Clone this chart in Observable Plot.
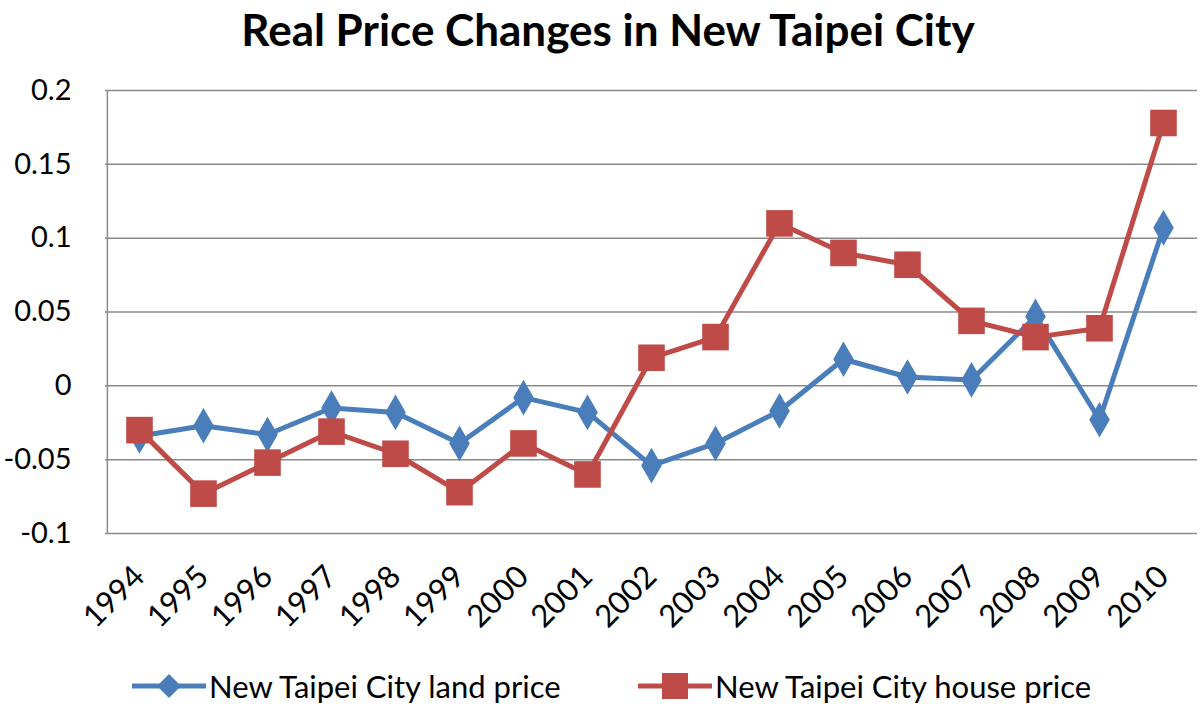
<!DOCTYPE html>
<html>
<head>
<meta charset="utf-8">
<script src="https://cdn.jsdelivr.net/npm/d3@7"></script>
<script src="https://cdn.jsdelivr.net/npm/@observablehq/plot@0.6"></script>
<style>
  html, body { margin: 0; padding: 0; background: #fff; }
  #wrap { width: 1200px; height: 704px; position: relative; overflow: hidden; font-family: Lato, "Open Sans", sans-serif; }
  #title { height: 70px; text-align: center; font-weight: bold; font-size: 44px; line-height: 58px; color: #000; padding-left: 16px; white-space: nowrap; }
  #legend { position: absolute; left: 0; top: 666px; width: 1200px; height: 40px; font-size: 31px; color: #000; }
  .item { position: absolute; top: 0; display: flex; align-items: center; height: 40px; }
  .item svg { display: block; }
</style>
</head>
<body>
<div id="wrap">
  <div id="title">Real Price Changes in New Taipei City</div>
  <div id="chart"></div>
  <div id="legend"></div>
</div>
<script>
const years = ["1994","1995","1996","1997","1998","1999","2000","2001","2002","2003","2004","2005","2006","2007","2008","2009","2010"];
const landPrice = [-0.034,-0.027,-0.033,-0.015,-0.018,-0.039,-0.008,-0.018,-0.054,-0.039,-0.017,0.018,0.006,0.004,0.047,-0.023,0.107];
const housePrice = [-0.030,-0.073,-0.052,-0.031,-0.046,-0.072,-0.039,-0.060,0.019,0.033,0.110,0.090,0.082,0.044,0.033,0.039,0.178];
const seriesNames = ["New Taipei City land price","New Taipei City house price"];
const seriesColors = ["#4a7ebb","#be4b48"];
const yTicks = [-0.1,-0.05,0,0.05,0.1,0.15,0.2];
const yTickLabels = ["-0.1","-0.05","0","0.05","0.1","0.15","0.2"];

const land = years.map((y,i)=>({year:y, value:landPrice[i]}));
const house = years.map((y,i)=>({year:y, value:housePrice[i]}));
const grid = "#8a8a8a";
const step = (1200 - 105 - 3) / years.length;

const chart = Plot.plot({
  width: 1200,
  height: 570,
  marginTop: 20,
  marginBottom: 107,
  marginLeft: 105,
  marginRight: 3,
  style: {fontFamily: "Lato, 'Open Sans', sans-serif", color: "#000", background: "#fff"},
  x: {type: "point", domain: years, padding: 0.5, label: null},
  y: {domain: [-0.1, 0.2], label: null},
  marks: [
    Plot.ruleY(yTicks, {stroke: grid, strokeWidth: 1.5}),
    Plot.ruleX([years[0]], {dx: -step / 2, stroke: grid, strokeWidth: 1.5}),
    Plot.axisY({ticks: yTicks, tickFormat: (d)=>yTickLabels[yTicks.indexOf(d)], tickSize: 0, tickPadding: 34, fontSize: 29, label: null}),
    Plot.axisX({tickRotate: -45, tickSize: 0, tickPadding: 38, fontSize: 31, label: null}),
    Plot.line(land, {x: "year", y: "value", stroke: seriesColors[0], strokeWidth: 5}),
    Plot.dot(land, {x: "year", y: "value", symbol: "diamond", r: 10.8, fill: seriesColors[0], stroke: null}),
    Plot.line(house, {x: "year", y: "value", stroke: seriesColors[1], strokeWidth: 5}),
    Plot.dot(house, {x: "year", y: "value", symbol: "square", r: 15, fill: seriesColors[1], stroke: null})
  ]
});
document.getElementById("chart").appendChild(chart);

// legend
const legend = document.getElementById("legend");
const lefts = [132, 638];
seriesNames.forEach((name, i) => {
  const item = document.createElement("div");
  item.className = "item";
  item.style.left = lefts[i] + "px";
  const ns = "http://www.w3.org/2000/svg";
  const svg = document.createElementNS(ns, "svg");
  svg.setAttribute("width", 74); svg.setAttribute("height", 40);
  const ln = document.createElementNS(ns, "line");
  ln.setAttribute("x1", 0); ln.setAttribute("x2", 74); ln.setAttribute("y1", 20); ln.setAttribute("y2", 20);
  ln.setAttribute("stroke", seriesColors[i]); ln.setAttribute("stroke-width", 5);
  svg.appendChild(ln);
  const m = document.createElementNS(ns, "path");
  m.setAttribute("d", i === 0 ? "M37,8L49,20L37,32L25,20Z" : "M24,7H50V33H24Z");
  m.setAttribute("fill", seriesColors[i]);
  svg.appendChild(m);
  item.appendChild(svg);
  const t = document.createElement("span");
  t.textContent = name;
  t.style.marginLeft = "3px";
  item.appendChild(t);
  legend.appendChild(item);
});
</script>
</body>
</html>
